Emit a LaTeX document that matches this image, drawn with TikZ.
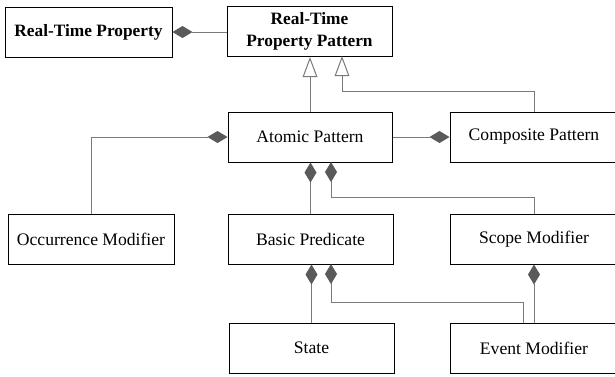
\documentclass[tikz,border=0pt]{standalone}
\usepackage{fontspec}
\setmainfont{Liberation Serif}
\usetikzlibrary{arrows.meta}
\definecolor{lnc}{HTML}{7A7A7A}
\definecolor{dmc}{HTML}{5A5A5A}
\begin{document}
\begin{tikzpicture}[x=0.75pt,y=-0.75pt,
  umlbox/.style={draw=black, line width=0.75pt, minimum width={#1*0.75pt},
    minimum height=37.5pt, inner sep=0pt, align=center,
    font=\fontsize{13.2}{17}\selectfont},
  boldtext/.style={font=\fontsize{13}{17}\selectfont\bfseries},
  compline/.style={draw=lnc, line width=0.75pt,
    -{Diamond[length=15pt,width=9pt,fill=dmc,color=dmc]}},
  genline/.style={draw=lnc, line width=0.75pt,
    -{Triangle[open,length=15pt,width=11pt,fill=white,color=lnc]}}]
\useasboundingbox (0,0) rectangle (615,376);
% boxes
\node[umlbox=167, boldtext] (rtp) at (88.5,32) {Real-Time Property};
\node[umlbox=165, boldtext] (rtpp) at (309.5,31.5) {Real-Time\\Property Pattern};
\node[umlbox=164] (atomic) at (310,137) {Atomic Pattern};
\node[umlbox=168] (comp) at (534,137) {Composite Pattern};
\node[umlbox=166] (occ) at (91,239) {Occurrence Modifier};
\node[umlbox=165] (basic) at (310.5,239) {Basic Predicate};
\node[umlbox=168] (scope) at (534,239) {Scope Modifier};
\node[umlbox=165] (state) at (311.5,348) {State};
\node[umlbox=168] (event) at (534,348) {Event Modifier};
% helper coordinates
\coordinate (g2) at (342,56);
\coordinate (h1) at (0,91);
\coordinate (a2) at (331,162);
\coordinate (h2) at (0,197);
\coordinate (b2) at (331,264);
\coordinate (h3) at (0,302);
\coordinate (e2) at (523,323);
% connectors
\draw[compline] (rtp.east -| rtpp.west) -- (rtp.east);
\draw[genline] (atomic.north) -- (atomic.north |- rtpp.south);
\draw[genline] (comp.north) -- (comp.north |- h1) -| (g2);
\draw[compline] (occ.north) |- (atomic.west);
\draw[compline] (atomic.east) -- (comp.west);
\draw[compline] (basic.north) -- (basic.north |- atomic.south);
\draw[compline] (scope.north) -- (scope.north |- h2) -| (a2);
\draw[compline] (state.north) -- (state.north |- basic.south);
\draw[compline] (e2) -- (e2 |- h3) -| (b2);
\draw[compline] (event.north) -- (scope.south);
\end{tikzpicture}
\end{document}
